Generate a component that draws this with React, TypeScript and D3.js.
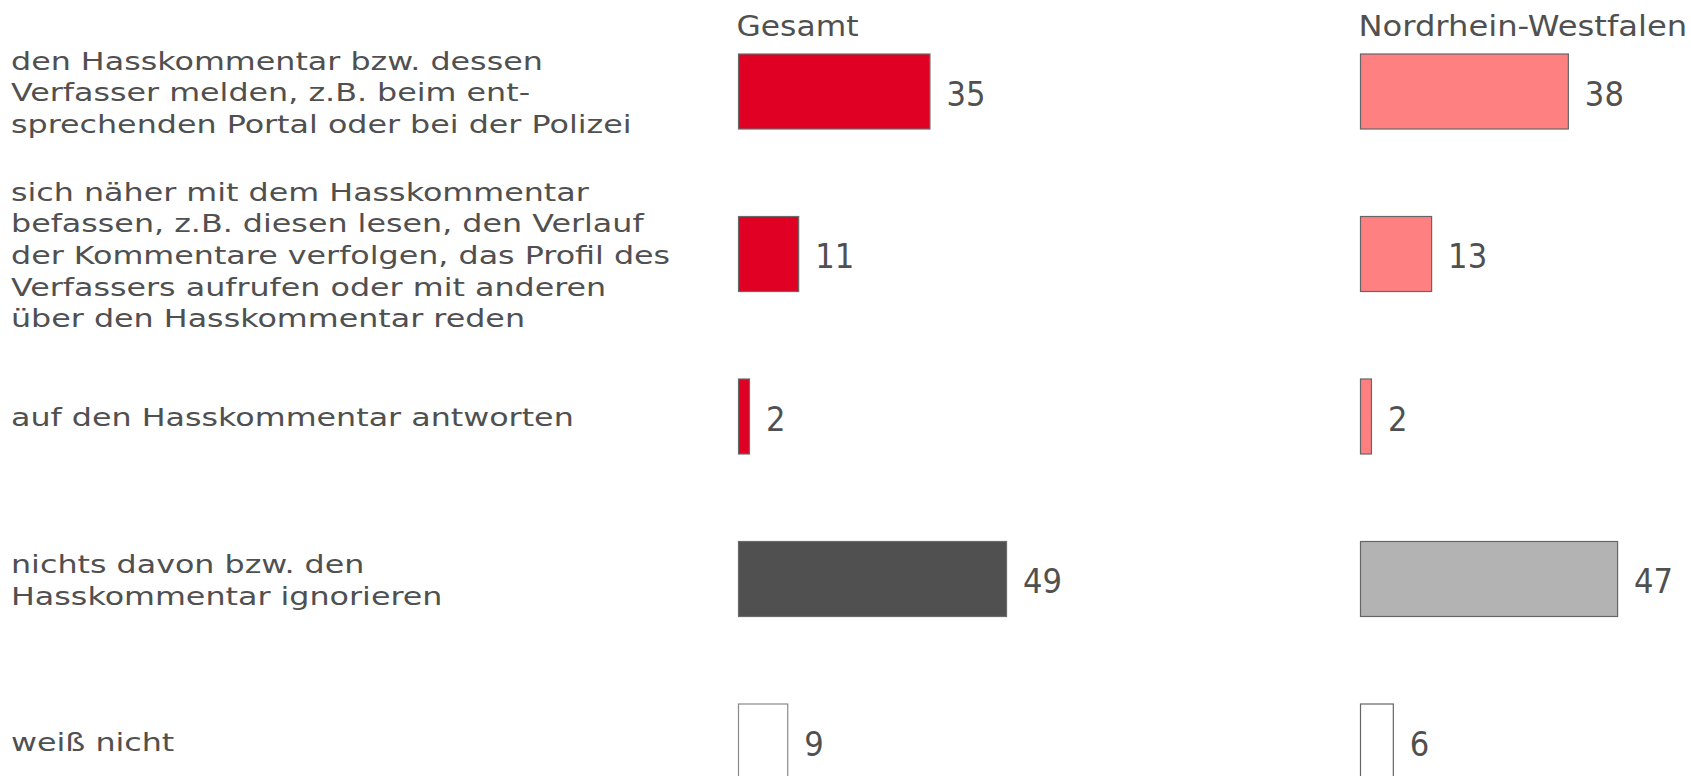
import React from "react";
import * as d3 from "d3";

// answer options, one entry per row (already broken into lines as in the source)
const categories = ["melden", "befassen", "antworten", "nichts", "weissnicht"];
const labelLines: string[][] = [
  ["den Hasskommentar bzw. dessen", "Verfasser melden, z.B. beim ent-", "sprechenden Portal oder bei der Polizei"],
  [
    "sich näher mit dem Hasskommentar",
    "befassen, z.B. diesen lesen, den Verlauf",
    "der Kommentare verfolgen, das Profil des",
    "Verfassers aufrufen oder mit anderen",
    "über den Hasskommentar reden",
  ],
  ["auf den Hasskommentar antworten"],
  ["nichts davon bzw. den", "Hasskommentar ignorieren"],
  ["weiß nicht"],
];

const gesamtValues = [35, 11, 2, 49, 9];
const nrwValues = [38, 13, 2, 47, 6];

const gesamtColors = ["#e00024", "#e00024", "#e00024", "#505050", "#ffffff"];
const nrwColors = ["#ff8080", "#ff8080", "#ff8080", "#b3b3b3", "#ffffff"];
const gesamtStroke = ["#6a6a6a", "#6a6a6a", "#6a6a6a", "#6a6a6a", "#8a8a8a"];

const panelTitles = ["Gesamt", "Nordrhein-Westfalen"];
const titleStretch = [1.12, 1.15];

const width = 1691;
const height = 776;
const textColor = "#505050";
const font = "'DejaVu Sans', Verdana, sans-serif";
const lineH = 31.7;

export default function App() {
  const y = d3
    .scaleBand<string>()
    .domain(categories)
    .range([54, 54 + 162.5 * 4 + 75])
    .paddingInner(1 - 75 / 162.5)
    .paddingOuter(0)
    .align(0);

  const xLeft = d3.scaleLinear().domain([0, 100]).range([738.5, 738.5 + 547]);
  const xRight = d3.scaleLinear().domain([0, 100]).range([1360.5, 1360.5 + 547]);

  const bw = y.bandwidth();

  const panels = [
    { x: xLeft, values: gesamtValues, fills: gesamtColors, strokes: gesamtStroke },
    { x: xRight, values: nrwValues, fills: nrwColors, strokes: nrwColors.map(() => "#666666") },
  ];

  return (
    <svg
      width={width}
      height={height}
      style={{ position: "absolute", left: 0, top: 0, background: "#fff" }}
    >
      {/* row labels */}
      <g transform="translate(11,0) scale(1.27,1)" fontFamily={font} fontSize={25} fill={textColor}>
        {categories.map((c, i) => {
          const lines = labelLines[i];
          const mid = (y(c) as number) + bw / 2 + 10;
          return (
            <text key={c}>
              {lines.map((l, j) => (
                <tspan key={j} x={0} y={mid + (j - (lines.length - 1) / 2) * lineH}>
                  {l}
                </tspan>
              ))}
            </text>
          );
        })}
      </g>

      {panels.map((p, k) => (
        <g key={panelTitles[k]}>
          <text
            transform={`translate(${p.x(0) - 2},36) scale(${titleStretch[k]},1)`}
            fontFamily={font}
            fontSize={28}
            fill={textColor}
          >
            {panelTitles[k]}
          </text>
          {categories.map((c, i) => (
            <rect
              key={c}
              x={p.x(0)}
              y={y(c)}
              width={p.x(p.values[i]) - p.x(0)}
              height={bw}
              fill={p.fills[i]}
              stroke={p.strokes[i]}
              strokeWidth={1.2}
            />
          ))}
          {categories.map((c, i) => (
            <text
              key={"t" + c}
              transform={`translate(${p.x(p.values[i]) + 16.5},${(y(c) as number) + bw / 2 + 14}) scale(0.93,1)`}
              fontFamily={font}
              fontSize={33}
              fill={textColor}
            >
              {p.values[i]}
            </text>
          ))}
        </g>
      ))}
    </svg>
  );
}
